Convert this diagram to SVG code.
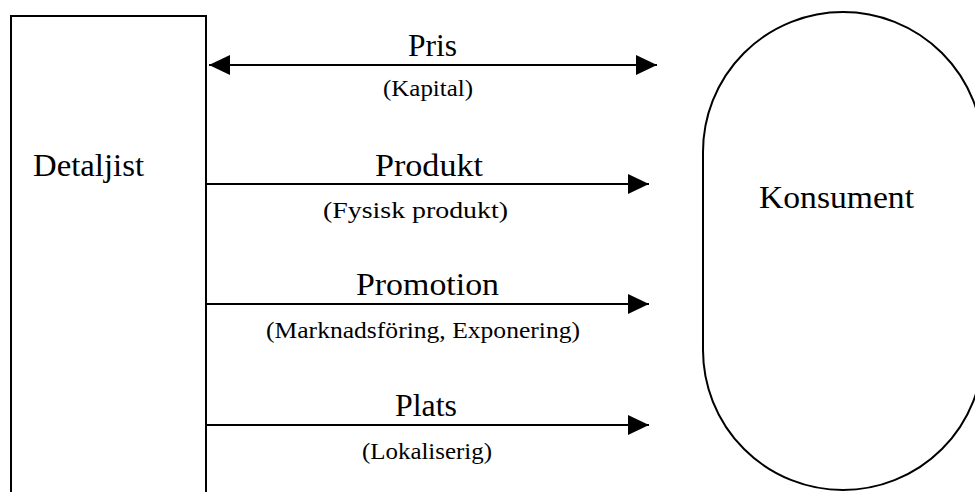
<svg xmlns="http://www.w3.org/2000/svg" width="975" height="492" viewBox="0 0 975 492">
<style>
.shape{fill:#fff;stroke:#000;stroke-width:2}
.conn{stroke:#000;stroke-width:2;fill:none}
.big{font-family:"Liberation Serif",serif;font-size:32px;fill:#000}
.sub{font-family:"Liberation Serif",serif;font-size:23px;fill:#000}
</style>
<defs>
<marker id="ah" markerUnits="userSpaceOnUse" markerWidth="21" markerHeight="20" viewBox="0 0 21 20" refX="21" refY="10" orient="auto-start-reverse">
<path d="M0,0 L21,10 L0,20 z" fill="#000"/>
</marker>
</defs>
<rect width="975" height="492" fill="#fff"/>
<g id="detaljist">
<rect class="shape" x="11" y="16" width="195" height="490"/>
<text class="big" x="33" y="176" textLength="111" lengthAdjust="spacingAndGlyphs">Detaljist</text>
</g>
<g id="konsument">
<rect class="shape" x="703" y="12" width="280" height="478" rx="140" ry="140"/>
<text class="big" x="759" y="208" textLength="155" lengthAdjust="spacingAndGlyphs">Konsument</text>
</g>
<g id="connectors">
<line class="conn" x1="209" y1="65" x2="657" y2="65" marker-start="url(#ah)" marker-end="url(#ah)"/>
<line class="conn" x1="207" y1="184" x2="649" y2="184" marker-end="url(#ah)"/>
<line class="conn" x1="207" y1="304" x2="649" y2="304" marker-end="url(#ah)"/>
<line class="conn" x1="207" y1="425" x2="649" y2="425" marker-end="url(#ah)"/>
</g>
<g id="labels">
<text class="big" x="408" y="56" textLength="49" lengthAdjust="spacingAndGlyphs">Pris</text>
<text class="sub" x="383" y="96" textLength="90" lengthAdjust="spacingAndGlyphs">(Kapital)</text>
<text class="big" x="375" y="176" textLength="108" lengthAdjust="spacingAndGlyphs">Produkt</text>
<text class="sub" x="323" y="218" textLength="185" lengthAdjust="spacingAndGlyphs">(Fysisk produkt)</text>
<text class="big" x="356" y="295" textLength="143" lengthAdjust="spacingAndGlyphs">Promotion</text>
<text class="sub" x="266" y="338" textLength="314" lengthAdjust="spacingAndGlyphs">(Marknadsföring, Exponering)</text>
<text class="big" x="395" y="416" textLength="62" lengthAdjust="spacingAndGlyphs">Plats</text>
<text class="sub" x="362" y="459" textLength="130" lengthAdjust="spacingAndGlyphs">(Lokaliserig)</text>
</g>
</svg>
